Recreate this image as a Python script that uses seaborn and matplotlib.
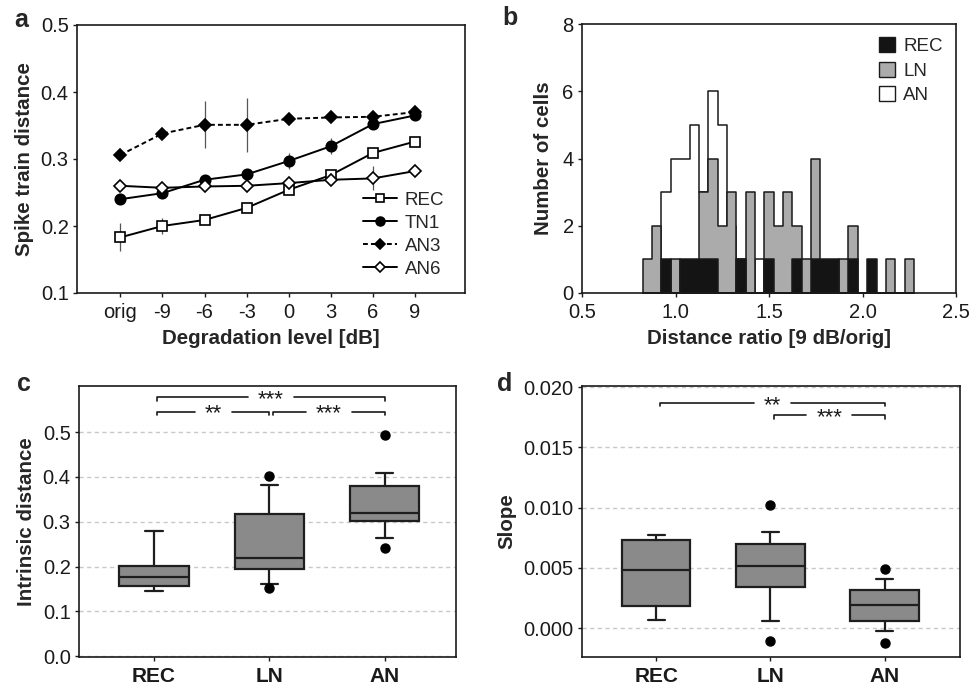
import numpy as np
import pandas as pd
import matplotlib
matplotlib.use("Agg")
import matplotlib.pyplot as plt
from matplotlib.patches import Patch
from matplotlib.lines import Line2D
import seaborn as sns

# ---------------- data ----------------
# panel a
levels = ["orig", "-9", "-6", "-3", "0", "3", "6", "9"]
rec_dist = [0.183, 0.200, 0.209, 0.227, 0.254, 0.276, 0.309, 0.326]
rec_err = [0.021, 0.012, 0.003, 0.003, 0.004, 0.004, 0.004, 0.003]
tn1_dist = [0.240, 0.249, 0.269, 0.277, 0.297, 0.319, 0.352, 0.365]
tn1_err = [0.003, 0.003, 0.004, 0.003, 0.012, 0.012, 0.004, 0.003]
an3_dist = [0.306, 0.338, 0.351, 0.351, 0.360, 0.362, 0.363, 0.370]
an3_err = [0.003, 0.003, 0.035, 0.040, 0.003, 0.003, 0.003, 0.003]
an6_dist = [0.260, 0.257, 0.259, 0.260, 0.264, 0.269, 0.271, 0.282]
an6_err = [0.003, 0.003, 0.003, 0.003, 0.003, 0.003, 0.018, 0.003]

# panel b: histogram counts per bin (bin width 0.05, first edge 0.825)
bin_start = 0.825
bin_width = 0.05
rec_counts = [0, 0, 1, 0, 1, 1, 1, 1, 0, 0, 1, 0, 0, 1, 0, 0, 1, 0, 1, 1, 1, 0, 1, 0, 1, 0, 0, 0, 0]
ln_counts = [1, 2, 0, 1, 0, 0, 3, 4, 2, 3, 0, 3, 0, 3, 2, 3, 2, 1, 4, 0, 0, 1, 2, 0, 0, 0, 1, 0, 1]
an_counts = [0, 0, 3, 4, 4, 5, 3, 6, 5, 2, 1, 0, 1, 0, 0, 0, 0, 0, 0, 0, 0, 0, 0, 0, 0, 0, 0, 0, 0]

# panel c: box stats [whisker low, Q1, median, Q3, whisker high]
groups = ["REC", "LN", "AN"]
intr_rec = [0.146, 0.157, 0.176, 0.201, 0.280]
intr_ln = [0.160, 0.194, 0.219, 0.317, 0.382]
intr_an = [0.264, 0.301, 0.319, 0.379, 0.409]
intr_fliers = [[], [0.151, 0.401], [0.241, 0.493]]

# panel d
slope_rec = [0.00064, 0.00185, 0.00479, 0.00728, 0.00772]
slope_ln = [0.00058, 0.00340, 0.00515, 0.00700, 0.00797]
slope_an = [-0.00025, 0.00058, 0.00191, 0.00313, 0.00407]
slope_fliers = [[], [-0.0011, 0.0102], [-0.00124, 0.00492]]

# significance brackets: (left group, right group, height, label)
sig_c = [(0, 2, 0.578, "***"), (0, 1, 0.546, "**"), (1, 2, 0.546, "***")]
sig_d = [(0, 2, 0.0187, "**"), (1, 2, 0.01768, "***")]

# ---------------- style ----------------
sns.set_theme(style="ticks")
plt.rcParams["font.family"] = ["Liberation Sans", "DejaVu Sans"]
plt.rcParams["axes.linewidth"] = 1.2
plt.rcParams["xtick.major.size"] = 3
plt.rcParams["ytick.major.size"] = 3
plt.rcParams["xtick.major.width"] = 1.0
plt.rcParams["ytick.major.width"] = 1.0
plt.rcParams["xtick.major.pad"] = 4
plt.rcParams["ytick.major.pad"] = 3

TICK_FS = 14.5
LAB_FS = 14.8
LEG_FS = 13.5
LET_FS = 18
STAR_FS = 16
GAP_PX = 10

W, H = 969, 688
fig = plt.figure(figsize=(W / 100, H / 100), dpi=100)


def rect(l, t, r, b):
    return [l / W, 1 - b / H, (r - l) / W, (b - t) / H]


ax_a = fig.add_axes(rect(77, 25, 465, 293))
ax_b = fig.add_axes(rect(582, 24, 956, 293))
ax_c = fig.add_axes(rect(79, 386, 456, 657))
ax_d = fig.add_axes(rect(582, 386, 960, 657))

for ax in (ax_a, ax_b, ax_c, ax_d):
    for s in ax.spines.values():
        s.set_color("#1a1a1a")
        s.set_linewidth(1.2)
    ax.tick_params(labelsize=TICK_FS, colors="#1a1a1a", direction="out")

# ---------------- panel a ----------------
xpos = np.arange(len(levels))
series = [
    ("REC", rec_dist, rec_err, "s", "white", "-", 6.5),
    ("TN1", tn1_dist, tn1_err, "o", "black", "-", 7.5),
    ("AN3", an3_dist, an3_err, "D", "black", (0, (2.5, 1.6)), 6.5),
    ("AN6", an6_dist, an6_err, "D", "white", "-", 6.5),
]
handles = []
for name, vals, errs, mk, fc, ls, ms in series:
    ax_a.errorbar(xpos, vals, yerr=errs, fmt="none", ecolor="#555555", elinewidth=0.9, capsize=0, zorder=1)
    sns.lineplot(x=xpos, y=vals, ax=ax_a, color="black", lw=1.4, linestyle=ls, marker=mk,
                 markersize=ms, markerfacecolor=fc, markeredgecolor="black", markeredgewidth=1.2, zorder=3)
    handles.append(Line2D([], [], color="black", lw=1.4, linestyle=ls, marker=mk, markersize=ms * 0.85,
                          markerfacecolor=fc, markeredgecolor="black", markeredgewidth=1.2))
ax_a.set_xlim(-1.03, 8.19)
ax_a.set_ylim(0.1, 0.5)
ax_a.set_xticks(xpos)
ax_a.set_xticklabels(levels)
ax_a.set_yticks([0.1, 0.2, 0.3, 0.4, 0.5])
ax_a.set_yticklabels(["0.1", "0.2", "0.3", "0.4", "0.5"])
ax_a.set_xlabel("Degradation level [dB]", fontsize=LAB_FS, fontweight="bold", labelpad=5)
ax_a.set_ylabel("Spike train distance", fontsize=LAB_FS, fontweight="bold", labelpad=5)
ax_a.legend(handles, ["REC", "TN1", "AN3", "AN6"], loc="lower right", frameon=False, fontsize=LEG_FS,
            handlelength=1.8, handletextpad=0.4, labelspacing=0.32, borderaxespad=0.4,
            bbox_to_anchor=(0.985, 0.0))

# ---------------- panel b ----------------
nb = len(rec_counts)
edges = bin_start + bin_width * np.arange(nb + 1)
centers = (edges[:-1] + edges[1:]) / 2
hist_series = [
    ("AN", an_counts, "white"),
    ("LN", ln_counts, "#ababab"),
    ("REC", rec_counts, "#141414"),
]
for name, counts, col in hist_series:
    df = pd.DataFrame({"ratio": centers, "n": np.asarray(counts, dtype=float)})
    sns.histplot(data=df, x="ratio", weights="n", binwidth=bin_width,
                 binrange=(float(edges[0]), float(edges[-1])), element="step", fill=True, color=col,
                 alpha=1, edgecolor="#1a1a1a", linewidth=1.1, ax=ax_b)
ax_b.set_xlim(0.5, 2.5)
ax_b.set_ylim(0, 8)
ax_b.set_xticks([0.5, 1.0, 1.5, 2.0, 2.5])
ax_b.set_xticklabels(["0.5", "1.0", "1.5", "2.0", "2.5"])
ax_b.set_yticks([0, 2, 4, 6, 8])
ax_b.set_xlabel("Distance ratio [9 dB/orig]", fontsize=LAB_FS, fontweight="bold", labelpad=5)
ax_b.set_ylabel("Number of cells", fontsize=LAB_FS, fontweight="bold", labelpad=7)
leg_handles = [Patch(facecolor=c, edgecolor="#1a1a1a", linewidth=1.0) for _, _, c in hist_series[::-1]]
ax_b.legend(leg_handles, ["REC", "LN", "AN"], loc="upper right", frameon=False, fontsize=LEG_FS,
            handlelength=0.85, handleheight=0.85, handletextpad=0.45, labelspacing=0.35,
            borderaxespad=0.3, bbox_to_anchor=(1.0, 1.0))

# ---------------- panels c, d ----------------
pending = []


def draw_box(ax, stats_list, fliers, sigs, ylim, yticks, yticklabels, ylabel, tick_h):
    stats = []
    for name, s, fl in zip(groups, stats_list, fliers):
        stats.append(dict(label=name, whislo=s[0], q1=s[1], med=s[2], q3=s[3], whishi=s[4], fliers=fl))
    ax.yaxis.grid(True, linestyle=(0, (3, 2.5)), color="#c8c8c8", lw=1.0, zorder=0)
    ax.set_axisbelow(True)
    ax.bxp(stats, positions=range(len(groups)), widths=0.6, capwidths=0.15, patch_artist=True,
           boxprops=dict(facecolor="#8a8a8a", edgecolor="#1e1e1e", linewidth=1.6),
           medianprops=dict(color="#1e1e1e", linewidth=1.6),
           whiskerprops=dict(color="#1e1e1e", linewidth=1.6),
           capprops=dict(color="#1e1e1e", linewidth=1.6),
           flierprops=dict(marker="o", markerfacecolor="black", markeredgecolor="black", markersize=6.5))
    ax.set_xlim(-0.65, 2.62)
    ax.set_ylim(*ylim)
    ax.set_yticks(yticks)
    ax.set_yticklabels(yticklabels)
    ax.set_xticks(range(len(groups)))
    ax.set_xticklabels(groups, fontweight="bold", fontsize=TICK_FS + 0.5)
    ax.set_ylabel(ylabel, fontsize=LAB_FS, fontweight="bold", labelpad=5)
    ax.set_xlabel("")
    for g0, g1, hgt, lab in sigs:
        x0, x1 = g0 + 0.03, g1
        t = ax.annotate(lab, xy=((x0 + x1) / 2, hgt), xytext=(0, -0.36 * STAR_FS),
                        textcoords="offset points", ha="center", va="baseline", fontsize=STAR_FS,
                        color="#1a1a1a", zorder=5)
        pending.append((ax, t, x0, x1, hgt, tick_h))


draw_box(ax_c, [intr_rec, intr_ln, intr_an], intr_fliers, sig_c, (-0.002, 0.603),
         [0.0, 0.1, 0.2, 0.3, 0.4, 0.5], ["0.0", "0.1", "0.2", "0.3", "0.4", "0.5"],
         "Intrinsic distance", 0.008)
draw_box(ax_d, [slope_rec, slope_ln, slope_an], slope_fliers, sig_d, (-0.0024, 0.0201),
         [0.0, 0.005, 0.010, 0.015, 0.020], ["0.000", "0.005", "0.010", "0.015", "0.020"],
         "Slope", 0.0003)
ax_d.set_xlim(-0.65, 2.66)

# bracket lines with a gap around the star label
fig.canvas.draw()
renderer = fig.canvas.get_renderer()
for ax, t, x0, x1, hgt, tick_h in pending:
    bb = t.get_window_extent(renderer)
    inv = ax.transData.inverted()
    gl = inv.transform((bb.x0 - GAP_PX, 0))[0]
    gr = inv.transform((bb.x1 + GAP_PX, 0))[0]
    kw = dict(color="#1a1a1a", lw=1.2, clip_on=False, zorder=4)
    ax.plot([x0, x0, gl], [hgt - tick_h, hgt, hgt], **kw)
    ax.plot([gr, x1, x1], [hgt, hgt, hgt - tick_h], **kw)

# panel letters
for lab, x, y in [("a", 21, 20), ("b", 510, 18), ("c", 24, 384), ("d", 505, 384)]:
    fig.text(x / W, 1 - y / H, lab, fontsize=LET_FS, fontweight="bold", ha="center", va="center")

fig.savefig("out.png", dpi=100)
